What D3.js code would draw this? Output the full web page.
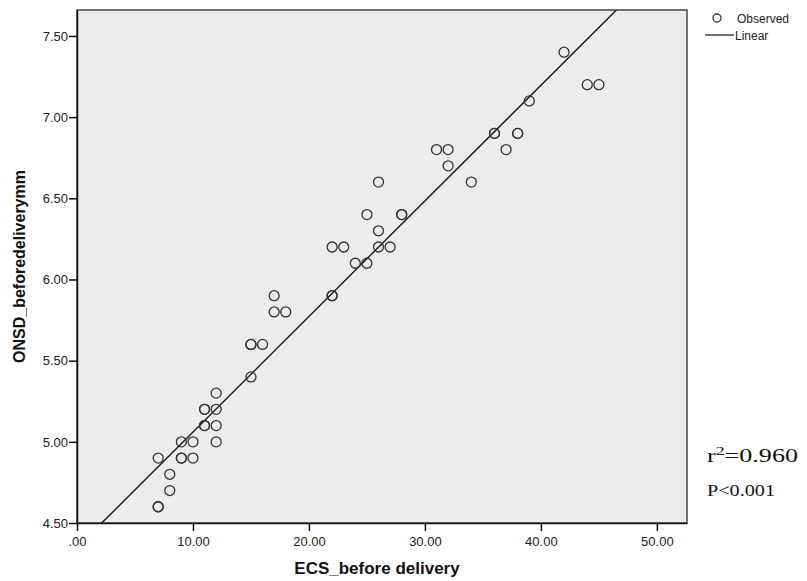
<!DOCTYPE html>
<html>
<head>
<meta charset="utf-8">
<script src="https://cdn.jsdelivr.net/npm/d3@7"></script>
<style>
  body { margin: 0; background: #fff; }
  text { font-family: Arial, "Liberation Sans", sans-serif; }
</style>
</head>
<body>
<script>
// Observed values (ECS before delivery, ONSD before delivery mm)
var ecsValues  = [7, 7, 7, 8, 8, 9, 9, 9, 10, 10, 11, 11, 11, 11, 12, 12, 12, 12,
                  15, 15, 16, 15, 17, 17, 18, 22, 23, 22, 22, 24, 25, 25, 26, 26, 26, 27, 28, 28,
                  31, 32, 32, 34, 36, 36, 38, 38, 37, 39, 42, 44, 45];
var onsdValues = [4.9, 4.6, 4.6, 4.8, 4.7, 5.0, 4.9, 4.9, 5.0, 4.9, 5.2, 5.2, 5.1, 5.1, 5.3, 5.2, 5.1, 5.0,
                  5.6, 5.6, 5.6, 5.4, 5.9, 5.8, 5.8, 6.2, 6.2, 5.9, 5.9, 6.1, 6.4, 6.1, 6.6, 6.3, 6.2, 6.2, 6.4, 6.4,
                  6.8, 6.8, 6.7, 6.6, 6.9, 6.9, 6.9, 6.9, 6.8, 7.1, 7.4, 7.2, 7.2];

// Fitted linear line
var fitIntercept = 4.348;
var fitSlope = 0.0712;

var xTicks = [0, 10, 20, 30, 40, 50];
var yTicks = [4.5, 5.0, 5.5, 6.0, 6.5, 7.0, 7.5];

var svgWidth = 807;
var svgHeight = 581;

var plot = { left: 77, top: 10, right: 687, bottom: 523 };

var svg = d3.select("body")
  .append("svg")
  .attr("width", svgWidth)
  .attr("height", svgHeight);

var xScale = d3.scaleLinear().domain([0, 52.6]).range([plot.left, plot.right]);
var yScale = d3.scaleLinear().domain([4.5, 7.66]).range([plot.bottom, plot.top]);

// plot background and frame
svg.append("rect")
  .attr("x", plot.left)
  .attr("y", plot.top)
  .attr("width", plot.right - plot.left)
  .attr("height", plot.bottom - plot.top)
  .attr("fill", "#ececec")
  .attr("stroke", "#444")
  .attr("stroke-width", 1.5);

// clip for regression line
svg.append("clipPath").attr("id", "clip")
  .append("rect")
  .attr("x", plot.left)
  .attr("y", plot.top)
  .attr("width", plot.right - plot.left)
  .attr("height", plot.bottom - plot.top);

var fmt = function(d) { return d === 0 ? ".00" : d3.format(".2f")(d); };

var bottomAxis = d3.axisBottom(xScale).tickValues(xTicks).tickFormat(fmt).tickSize(8).tickSizeOuter(0);
var leftAxis = d3.axisLeft(yScale).tickValues(yTicks).tickFormat(d3.format(".2f")).tickSize(8).tickSizeOuter(0);

var gx = svg.append("g")
  .attr("transform", `translate(0, ${plot.bottom})`)
  .call(bottomAxis);
gx.select(".domain").attr("stroke", "#111").attr("stroke-width", 1.5);
gx.selectAll(".tick line").attr("stroke", "#111").attr("stroke-width", 1.5);
gx.selectAll(".tick text").attr("font-size", 13).attr("fill", "#222").attr("dy", "0.9em");

var gy = svg.append("g")
  .attr("transform", `translate(${plot.left}, 0)`)
  .call(leftAxis);
gy.select(".domain").attr("stroke", "#111").attr("stroke-width", 1.5);
gy.selectAll(".tick line").attr("stroke", "#111").attr("stroke-width", 1.5);
gy.selectAll(".tick text").attr("font-size", 13).attr("fill", "#222").attr("x", -9);

// regression line
svg.append("line")
  .attr("clip-path", "url(#clip)")
  .attr("x1", xScale(0))
  .attr("y1", yScale(fitIntercept))
  .attr("x2", xScale(52.6))
  .attr("y2", yScale(fitIntercept + fitSlope * 52.6))
  .attr("stroke", "#222")
  .attr("stroke-width", 1.5);

// observed points
var points = ecsValues.map(function(d, i) { return { x: d, y: onsdValues[i] }; });
svg.selectAll(".pt")
  .data(points)
  .enter()
  .append("circle")
  .attr("class", "pt")
  .attr("cx", d => xScale(d.x))
  .attr("cy", d => yScale(d.y))
  .attr("r", 5)
  .attr("fill", "none")
  .attr("stroke", "#333")
  .attr("stroke-width", 1.3);

// axis titles
svg.append("text")
  .attr("x", (plot.left + plot.right) / 2 - 5)
  .attr("y", 574)
  .attr("text-anchor", "middle")
  .attr("font-size", 17)
  .attr("font-weight", "bold")
  .attr("fill", "#111")
  .text("ECS_before delivery");

svg.append("text")
  .attr("transform", `translate(25, ${(plot.top + plot.bottom) / 2}) rotate(-90)`)
  .attr("text-anchor", "middle")
  .attr("font-size", 16)
  .attr("font-weight", "bold")
  .attr("fill", "#111")
  .text("ONSD_beforedeliverymm");

// legend
svg.append("circle")
  .attr("cx", 717).attr("cy", 18).attr("r", 4)
  .attr("fill", "none").attr("stroke", "#333").attr("stroke-width", 1.3);
svg.append("text")
  .attr("x", 737).attr("y", 23)
  .attr("font-size", 12).attr("fill", "#222")
  .text("Observed");
svg.append("line")
  .attr("x1", 705).attr("x2", 734).attr("y1", 35).attr("y2", 35)
  .attr("stroke", "#222").attr("stroke-width", 1.3);
svg.append("text")
  .attr("x", 735).attr("y", 40)
  .attr("font-size", 12).attr("fill", "#222")
  .text("Linear");

// statistics (serif, horizontally stretched as in the original)
var serif = "'Liberation Serif', 'DejaVu Serif', serif";
var stat = svg.append("text")
  .attr("x", 707).attr("y", 462)
  .style("font-family", serif)
  .attr("font-size", 19).attr("fill", "#111")
  .attr("textLength", 91)
  .attr("lengthAdjust", "spacingAndGlyphs");
stat.append("tspan").text("r");
stat.append("tspan").attr("font-size", 13).attr("dy", -7).text("2");
stat.append("tspan").attr("dy", 7).text("=0.960");

svg.append("text")
  .attr("x", 707).attr("y", 496)
  .style("font-family", serif)
  .attr("font-size", 16).attr("fill", "#111")
  .attr("textLength", 68)
  .attr("lengthAdjust", "spacingAndGlyphs")
  .text("P<0.001");
</script>
</body>
</html>
